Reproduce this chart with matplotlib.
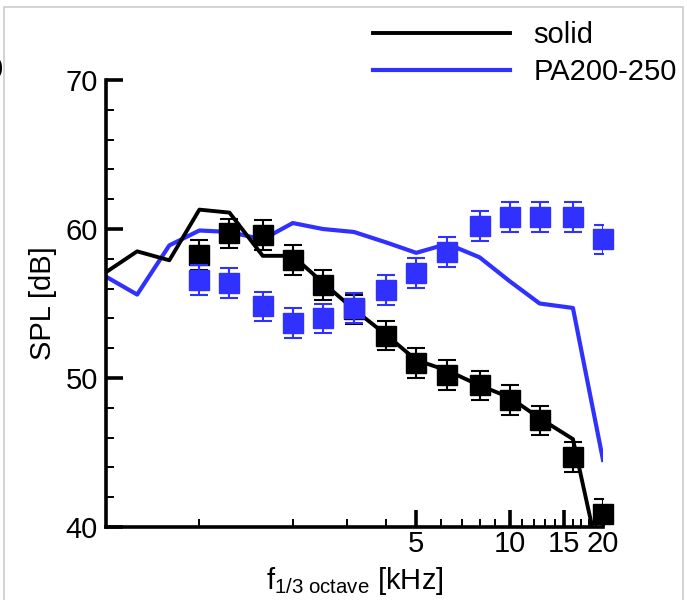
import matplotlib
matplotlib.use("Agg")
import matplotlib.pyplot as plt
from matplotlib.patches import Rectangle
from matplotlib.ticker import FixedLocator, NullFormatter

plt.rcParams["font.family"] = ["Liberation Sans", "DejaVu Sans"]
plt.rcParams["mathtext.fontset"] = "custom"
plt.rcParams["mathtext.rm"] = "Liberation Sans"
plt.rcParams["mathtext.it"] = "Liberation Sans"

# 1/3 octave band centres [kHz]
f_line = [0.5, 0.63, 0.8, 1.0, 1.25, 1.6, 2.0, 2.5, 3.15, 4.0, 5.0, 6.3, 8.0, 10.0, 12.5, 16.0, 20.0]
solid_line = [57.1, 58.5, 57.9, 61.3, 61.1, 58.2, 58.2, 56.4, 54.6, 52.9, 51.2, 50.5, 49.5, 48.7, 47.3, 45.9, 36.7]
pa_line = [56.8, 55.6, 58.9, 59.9, 59.8, 59.3, 60.4, 60.0, 59.8, 59.1, 58.4, 59.0, 58.1, 56.5, 55.0, 54.7, 44.5]

f_exp = [1.0, 1.25, 1.6, 2.0, 2.5, 3.15, 4.0, 5.0, 6.3, 8.0, 10.0, 12.5, 16.0, 20.0]
solid_exp = [58.25, 59.7, 59.6, 57.9, 56.25, 54.6, 52.85, 51.0, 50.2, 49.5, 48.5, 47.15, 44.7, 40.9]
pa_exp = [56.6, 56.4, 54.8, 53.7, 54.0, 54.7, 55.9, 57.05, 58.45, 60.2, 60.8, 60.8, 60.8, 59.3]
err = 1.0

x_major = [5, 10, 15, 20]
x_minor = [1, 2, 3, 4, 6, 7, 8, 9, 11, 12, 13, 14, 16, 17, 18, 19]

blue = "#3030ff"

fig = plt.figure(figsize=(6.87, 6.0), dpi=100)
ax = fig.add_axes([106/687, 1 - 527/600, (603 - 106)/687, (527 - 80)/600])

# lines
ax.plot(f_line, pa_line, color=blue, lw=3.0, label="PA200-250", zorder=2)
ax.plot(f_line, solid_line, color="black", lw=2.8, label="solid", zorder=3)

# experimental points with error bars
ax.errorbar(f_exp, solid_exp, yerr=err, fmt="none", ecolor="black",
            elinewidth=1.5, capsize=6.8, capthick=1.5, zorder=4)
ax.plot(f_exp, solid_exp, ls="none", marker="s", ms=14.4, color="black",
        clip_on=False, zorder=5)
ax.errorbar(f_exp, pa_exp, yerr=err, fmt="none", ecolor=blue,
            elinewidth=1.5, capsize=6.8, capthick=1.5, zorder=6)
ax.plot(f_exp, pa_exp, ls="none", marker="s", ms=14.4, color=blue,
        clip_on=False, zorder=7)

ax.set_xscale("log")
ax.set_xlim(0.5, 20)
ax.set_ylim(40, 70)

ax.xaxis.set_major_locator(FixedLocator(x_major))
ax.xaxis.set_minor_locator(FixedLocator(x_minor))
ax.xaxis.set_minor_formatter(NullFormatter())
ax.set_xticklabels([str(v) for v in x_major])
ax.set_yticks([40, 50, 60, 70])
ax.set_yticks(range(42, 70, 2), minor=True)

for s in ["top", "right"]:
    ax.spines[s].set_visible(False)
for s in ["left", "bottom"]:
    ax.spines[s].set_linewidth(2.6)

ax.tick_params(which="major", direction="in", length=12, width=2.6,
               labelsize=21, pad=6)
ax.tick_params(axis="x", which="major", pad=2)
ax.tick_params(which="minor", direction="in", length=6, width=1.4)

ax.set_xlabel(r"f$_{\mathrm{1/3\ octave}}$ [kHz]", fontsize=21, labelpad=5)
ax.set_ylabel("SPL [dB]", fontsize=21, labelpad=6)

handles, labels = ax.get_legend_handles_labels()
fig.legend(handles[::-1], labels[::-1], loc="upper left",
           bbox_to_anchor=(373/687, 1 - 21/600), frameon=False,
           fontsize=21, borderpad=0, borderaxespad=0, handlelength=4.7,
           handletextpad=0.8, labelspacing=0.3)

# light frame of the cropped panel and the stray glyph of the neighbour
fig.add_artist(Rectangle((4/687, -0.1), (683 - 4)/687, 1.1 - 7/600,
                         transform=fig.transFigure, fill=False,
                         edgecolor="#cccccc", lw=1.2))
fig.text(3/687, 1 - 70/600, "0", ha="right", va="center", fontsize=21)

fig.savefig("out.png", dpi=100)
